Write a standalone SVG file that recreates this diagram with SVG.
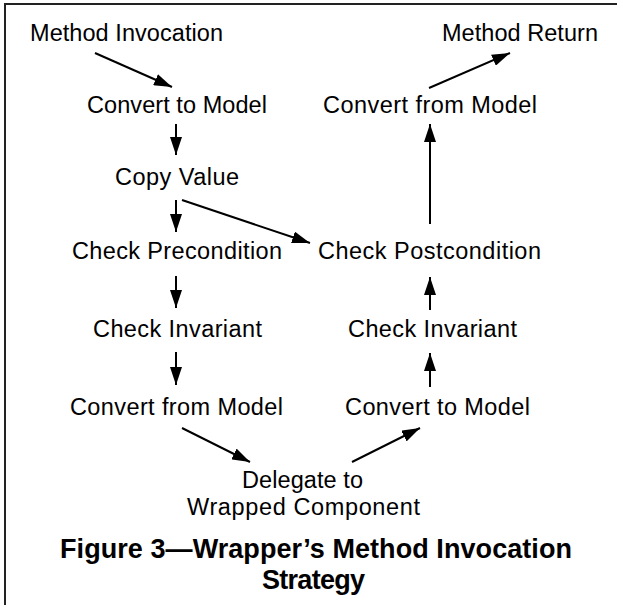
<svg xmlns="http://www.w3.org/2000/svg" width="617" height="605" viewBox="0 0 617 605">
<style>
text{font-family:"Liberation Sans",Arial,sans-serif;font-size:23.5px;fill:#000}
.cap{font-weight:bold;font-size:27px}
.c line{stroke:#000;stroke-width:2;marker-end:url(#ah)}
</style>
<defs>
<marker id="ah" markerUnits="userSpaceOnUse" markerWidth="18" markerHeight="12" refX="18" refY="6" orient="auto" viewBox="0 0 18 12">
<path d="M0,0 L18,6 L0,12 z" fill="#000"/>
</marker>
</defs>
<rect width="617" height="605" fill="#fff"/>
<g id="frame" stroke="#222" stroke-width="2" fill="none">
<line x1="5" y1="4" x2="5" y2="605"/>
<line x1="4" y1="4" x2="617" y2="4"/>
</g>
<g id="n1"><text x="30" y="41" textLength="193" lengthAdjust="spacing">Method Invocation</text></g>
<g id="n2"><text x="87" y="113" textLength="180" lengthAdjust="spacing">Convert to Model</text></g>
<g id="n3"><text x="115" y="185" textLength="124" lengthAdjust="spacing">Copy Value</text></g>
<g id="n4"><text x="72" y="259" textLength="210" lengthAdjust="spacing">Check Precondition</text></g>
<g id="n5"><text x="93" y="337" textLength="169" lengthAdjust="spacing">Check Invariant</text></g>
<g id="n6"><text x="70" y="415" textLength="213" lengthAdjust="spacing">Convert from  Model</text></g>
<g id="n7"><text x="242" y="488" textLength="121" lengthAdjust="spacing">Delegate to</text><text x="187" y="515" textLength="233" lengthAdjust="spacing">Wrapped Component</text></g>
<g id="n8"><text x="345" y="415" textLength="185" lengthAdjust="spacing">Convert to Model</text></g>
<g id="n9"><text x="348" y="337" textLength="169" lengthAdjust="spacing">Check Invariant</text></g>
<g id="n10"><text x="318" y="259" textLength="223" lengthAdjust="spacing">Check Postcondition</text></g>
<g id="n11"><text x="323" y="113" textLength="214" lengthAdjust="spacing">Convert from  Model</text></g>
<g id="n12"><text x="442" y="41" textLength="156" lengthAdjust="spacing">Method Return</text></g>
<g id="caption"><text class="cap" x="60" y="558" textLength="512" lengthAdjust="spacing">Figure 3—Wrapper’s Method Invocation</text><text class="cap" x="262" y="589" textLength="103" lengthAdjust="spacing">Strategy</text></g>
<g id="connectors" class="c">
<line x1="95" y1="53" x2="172" y2="87"/>
<line x1="176" y1="124" x2="176" y2="155"/>
<line x1="176" y1="200" x2="176" y2="232"/>
<line x1="182" y1="200" x2="310" y2="243"/>
<line x1="176" y1="276" x2="176" y2="308"/>
<line x1="176" y1="352" x2="176" y2="385"/>
<line x1="182" y1="428" x2="250" y2="462"/>
<line x1="352" y1="462" x2="420" y2="428"/>
<line x1="430" y1="387" x2="430" y2="353"/>
<line x1="430" y1="310" x2="430" y2="277"/>
<line x1="430" y1="224" x2="430" y2="124"/>
<line x1="429" y1="88" x2="510" y2="53"/>
</g>
</svg>
